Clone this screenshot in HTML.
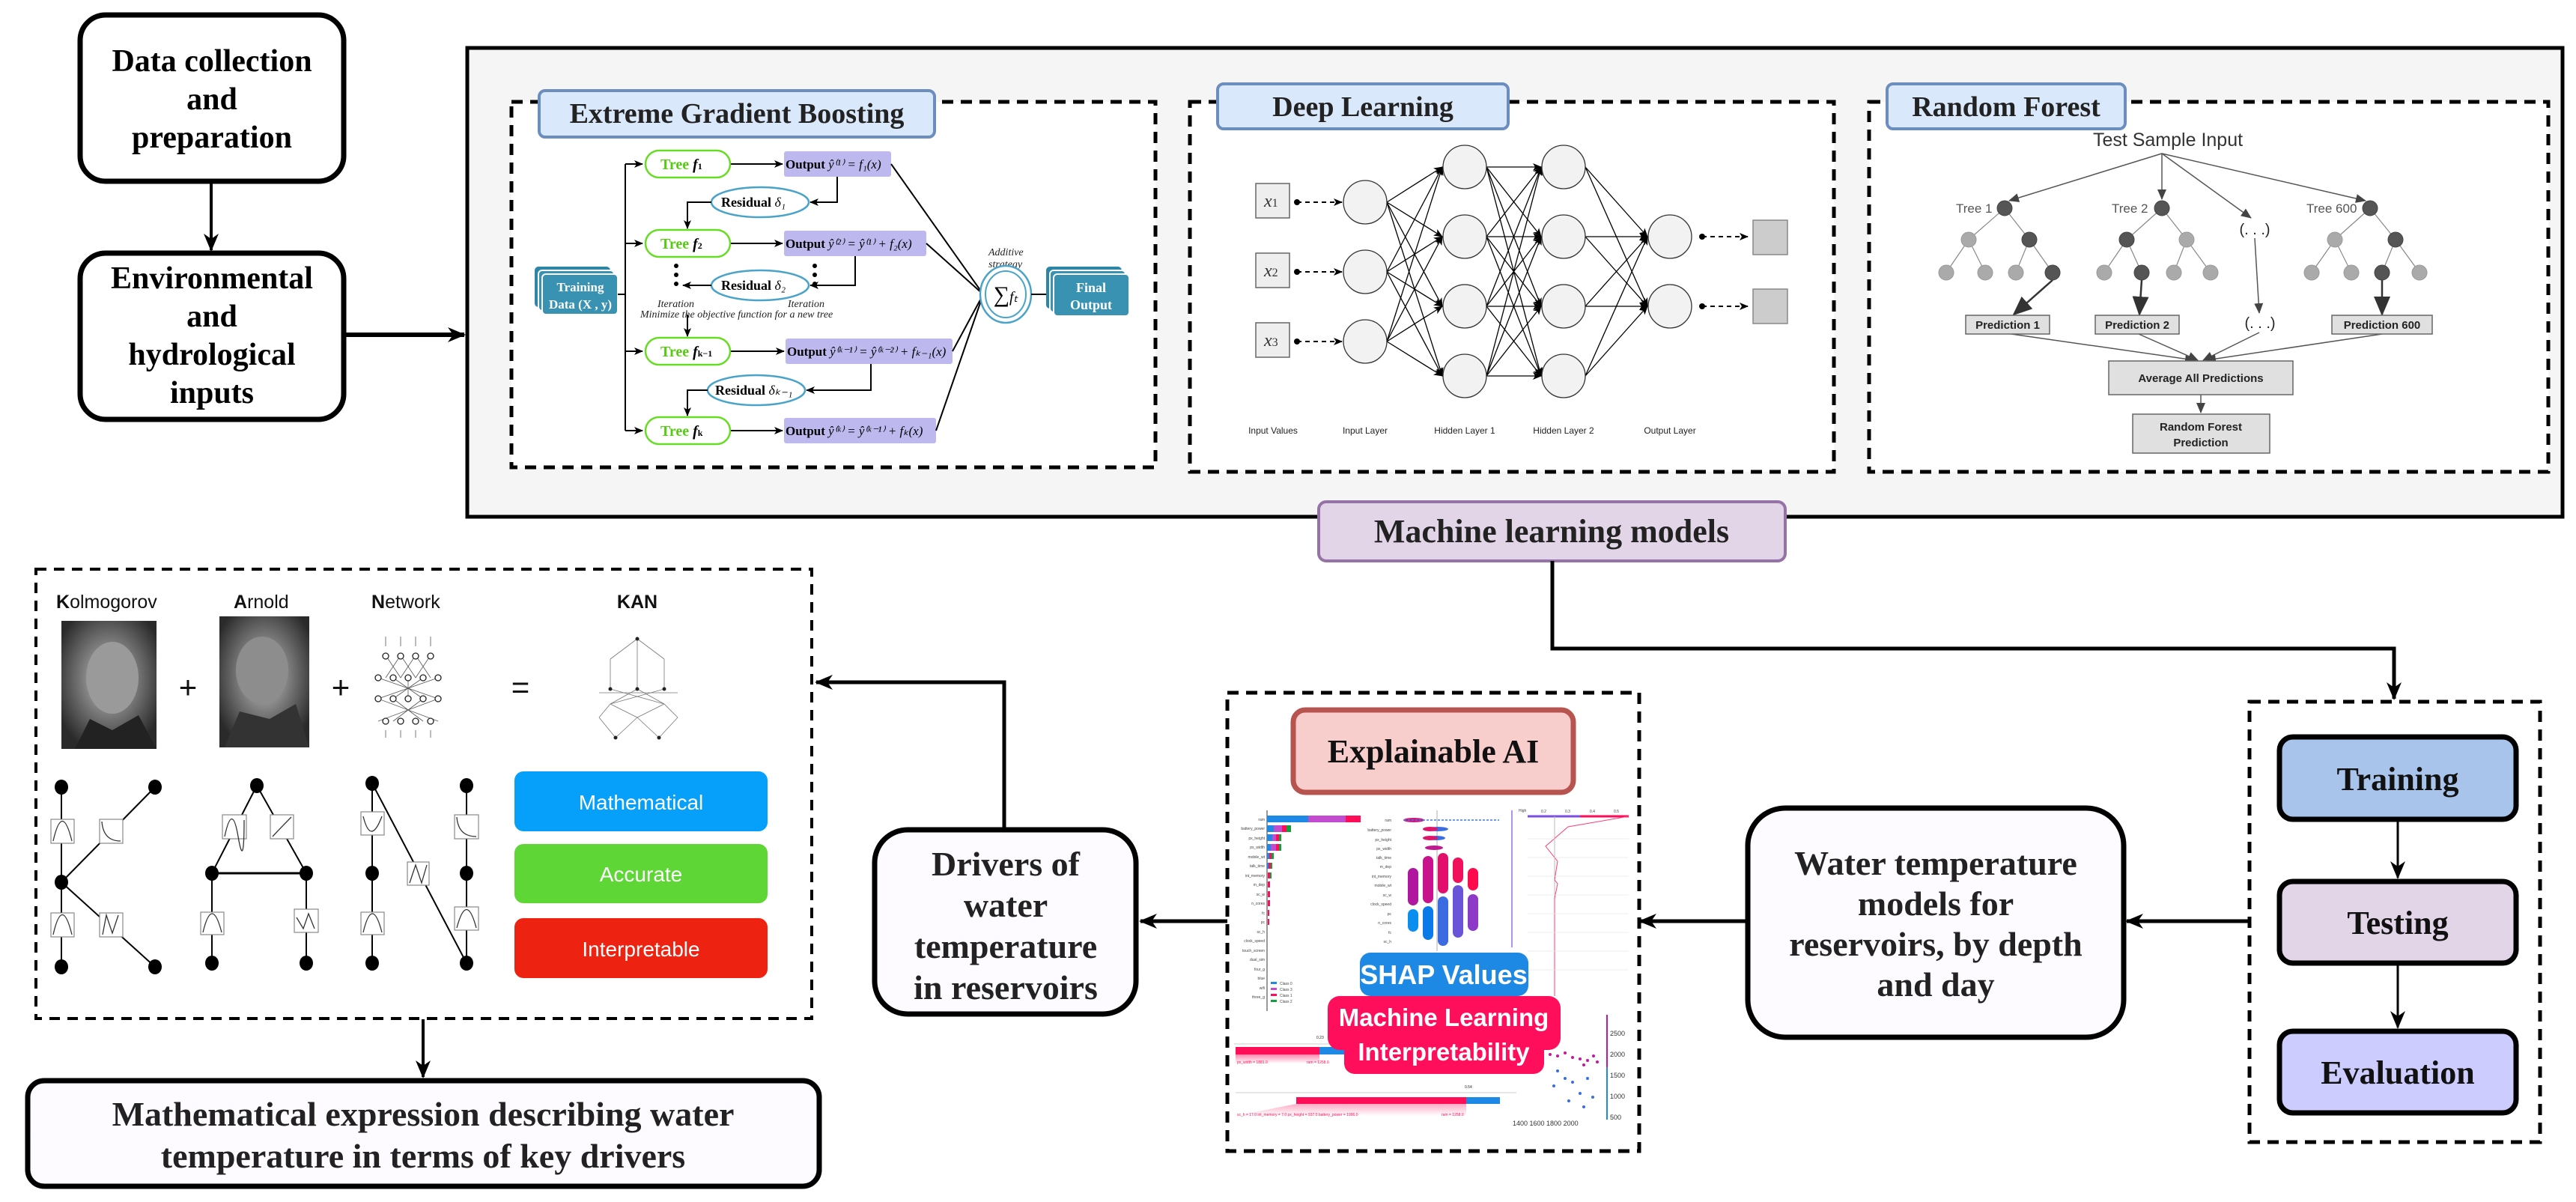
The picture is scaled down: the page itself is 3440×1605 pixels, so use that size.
<!DOCTYPE html>
<html><head><meta charset="utf-8"><style>
html,body{margin:0;padding:0;background:#fff}
svg{display:block}
.serif{font-family:"Liberation Serif",serif;font-weight:bold}
.sans{font-family:"Liberation Sans",sans-serif}
</style></head><body>
<svg width="3440" height="1605" viewBox="0 0 3440 1605" xmlns="http://www.w3.org/2000/svg">
<defs>
<marker id="ar" markerWidth="24" markerHeight="24" refX="22" refY="12" orient="auto" markerUnits="userSpaceOnUse"><path d="M0,2 L24,12 L0,22 L7,12 z" fill="#000"/></marker>
<marker id="as" markerWidth="12" markerHeight="12" refX="11" refY="6" orient="auto" markerUnits="userSpaceOnUse"><path d="M0,1 L12,6 L0,11 L3,6 z" fill="#000"/></marker>
<marker id="ag" markerWidth="14" markerHeight="14" refX="13" refY="7" orient="auto" markerUnits="userSpaceOnUse"><path d="M0,1 L14,7 L0,13 z" fill="#444"/></marker>
<marker id="agb" markerWidth="26" markerHeight="26" refX="24" refY="13" orient="auto" markerUnits="userSpaceOnUse"><path d="M0,2 L26,13 L0,24 z" fill="#333"/></marker>
<radialGradient id="ph" cx="50%" cy="45%" r="60%"><stop offset="0" stop-color="#c8c8c8"/><stop offset="0.5" stop-color="#777"/><stop offset="1" stop-color="#2a2a2a"/></radialGradient>
<linearGradient id="sh" x1="0" y1="0" x2="0" y2="1"><stop offset="0" stop-color="#ff0a5a"/><stop offset="1" stop-color="#ff0a5a" stop-opacity="0"/></linearGradient>
</defs>

<!-- Left top boxes -->
<rect x="107" y="20" width="352" height="222" rx="34" fill="#fff" stroke="#000" stroke-width="7"/>
<text class="serif" font-size="42" text-anchor="middle"><tspan x="283" y="95">Data collection</tspan><tspan x="283" y="146">and</tspan><tspan x="283" y="197">preparation</tspan></text>
<line x1="282" y1="242" x2="282" y2="334" stroke="#000" stroke-width="4" marker-end="url(#ar)"/>
<rect x="107" y="338" width="352" height="222" rx="34" fill="#fff" stroke="#000" stroke-width="7"/>
<text class="serif" font-size="42" text-anchor="middle"><tspan x="283" y="385">Environmental</tspan><tspan x="283" y="436">and</tspan><tspan x="283" y="487">hydrological</tspan><tspan x="283" y="538">inputs</tspan></text>
<line x1="459" y1="447" x2="620" y2="447" stroke="#000" stroke-width="6" marker-end="url(#ar)"/>

<!-- ML big box -->
<rect x="624" y="64" width="2798" height="626" fill="#f5f5f5" stroke="#000" stroke-width="5"/>

<!-- XGB -->
<rect x="683" y="136" width="860" height="488" fill="#fff" stroke="#000" stroke-width="5" stroke-dasharray="15 10"/>
<rect x="720" y="121" width="528" height="62" rx="8" fill="#dae8fc" stroke="#6c8ebf" stroke-width="4"/>
<text class="serif" x="984" y="164" font-size="38" text-anchor="middle" fill="#222">Extreme Gradient Boosting</text>
<!-- training data -->
<rect x="714" y="356" width="101" height="54" rx="5" fill="#2d86a6"/>
<rect x="719" y="361" width="101" height="54" rx="5" fill="#3a92b2" stroke="#fff" stroke-width="2"/>
<rect x="724" y="366" width="101" height="54" rx="5" fill="#3a92b2" stroke="#fff" stroke-width="2"/>
<text class="serif" font-size="17" fill="#fff" text-anchor="middle"><tspan x="775" y="389">Training</tspan><tspan x="775" y="412">Data (X , y)</tspan></text>
<line x1="825" y1="393" x2="835" y2="393" stroke="#000" stroke-width="2"/>
<line x1="835" y1="219" x2="835" y2="575" stroke="#000" stroke-width="2"/>
<g stroke="#000" stroke-width="2" marker-end="url(#as)">
<line x1="835" y1="219" x2="858" y2="219"/><line x1="835" y1="325" x2="858" y2="325"/><line x1="835" y1="469" x2="858" y2="469"/><line x1="835" y1="575" x2="858" y2="575"/>
<line x1="976" y1="219" x2="1045" y2="219"/><line x1="976" y1="325" x2="1045" y2="325"/><line x1="976" y1="469" x2="1047" y2="469"/><line x1="976" y1="575" x2="1045" y2="575"/>
</g>
<g fill="#fff" stroke="#66dd22" stroke-width="2.5">
<rect x="862" y="201" width="113" height="36" rx="18"/><rect x="862" y="307" width="113" height="36" rx="18"/><rect x="862" y="451" width="113" height="36" rx="18"/><rect x="862" y="557" width="113" height="36" rx="18"/>
</g>
<g font-family="Liberation Serif,serif" font-size="20" fill="#55cc11" font-weight="bold">
<text x="882" y="226">Tree <tspan fill="#000" font-style="italic">f</tspan><tspan fill="#000" font-size="12">1</tspan></text>
<text x="882" y="332">Tree <tspan fill="#000" font-style="italic">f</tspan><tspan fill="#000" font-size="12">2</tspan></text>
<text x="882" y="476">Tree <tspan fill="#000" font-style="italic">f</tspan><tspan fill="#000" font-size="12">k−1</tspan></text>
<text x="882" y="582">Tree <tspan fill="#000" font-style="italic">f</tspan><tspan fill="#000" font-size="12">k</tspan></text>
</g>
<g fill="#bdb8ee">
<rect x="1047" y="202" width="143" height="34" rx="3"/><rect x="1047" y="308" width="190" height="34" rx="3"/><rect x="1049" y="452" width="223" height="34" rx="3"/><rect x="1047" y="558" width="203" height="34" rx="3"/>
</g>
<g font-family="Liberation Serif,serif" font-size="17" fill="#000">
<text x="1049" y="225"><tspan font-weight="bold">Output</tspan> <tspan font-style="italic">ŷ⁽¹⁾ = f₁(x)</tspan></text>
<text x="1049" y="331"><tspan font-weight="bold">Output</tspan> <tspan font-style="italic">ŷ⁽²⁾ = ŷ⁽¹⁾ + f₂(x)</tspan></text>
<text x="1051" y="475"><tspan font-weight="bold">Output</tspan> <tspan font-style="italic">ŷ⁽ᵏ⁻¹⁾ = ŷ⁽ᵏ⁻²⁾ + fₖ₋₁(x)</tspan></text>
<text x="1049" y="581"><tspan font-weight="bold">Output</tspan> <tspan font-style="italic">ŷ⁽ᵏ⁾ = ŷ⁽ᵏ⁻¹⁾ + fₖ(x)</tspan></text>
</g>
<g fill="#fff" stroke="#4aa3c8" stroke-width="2.5">
<ellipse cx="1015" cy="270" rx="65" ry="20"/><ellipse cx="1015" cy="381" rx="65" ry="20"/><ellipse cx="1010" cy="521" rx="65" ry="20"/>
</g>
<g font-family="Liberation Serif,serif" font-size="18" font-weight="bold">
<text x="963" y="276">Residual <tspan font-style="italic" font-weight="normal">δ₁</tspan></text>
<text x="963" y="387">Residual <tspan font-style="italic" font-weight="normal">δ₂</tspan></text>
<text x="955" y="527">Residual <tspan font-style="italic" font-weight="normal">δₖ₋₁</tspan></text>
</g>
<g fill="none" stroke="#000" stroke-width="2">
<polyline points="1118,236 1118,270 1082,270" marker-end="url(#as)"/>
<polyline points="950,270 918,270 918,305" marker-end="url(#as)"/>
<polyline points="1142,342 1142,381 1082,381" marker-end="url(#as)"/>
<polyline points="950,381 912,381" marker-end="url(#as)"/>
<polyline points="1163,486 1163,521 1077,521" marker-end="url(#as)"/>
<polyline points="945,521 918,521 918,555" marker-end="url(#as)"/>
<line x1="918" y1="420" x2="918" y2="449" marker-end="url(#as)"/>
<line x1="1190" y1="219" x2="1313" y2="393"/><line x1="1237" y1="325" x2="1313" y2="393"/><line x1="1272" y1="469" x2="1313" y2="393"/><line x1="1250" y1="575" x2="1313" y2="393"/>
</g>
<g fill="#000"><circle cx="903" cy="355" r="3"/><circle cx="903" cy="367" r="3"/><circle cx="903" cy="379" r="3"/><circle cx="1088" cy="355" r="3"/><circle cx="1088" cy="367" r="3"/><circle cx="1088" cy="379" r="3"/></g>
<g font-family="Liberation Serif,serif" font-style="italic" font-size="14" fill="#222">
<text x="878" y="410">Iteration</text><text x="1052" y="410">Iteration</text>
<text x="855" y="424">Minimize the objective function for a new tree</text>
<text x="1320" y="341">Additive</text><text x="1320" y="357">strategy</text>
</g>
<ellipse cx="1343" cy="393" rx="34" ry="38" fill="#fff" stroke="#4aa3c8" stroke-width="2.5"/>
<ellipse cx="1343" cy="393" rx="27" ry="31" fill="none" stroke="#4aa3c8" stroke-width="2"/>
<text x="1343" y="403" font-family="Liberation Serif,serif" font-size="30" text-anchor="middle">∑<tspan font-size="20" font-style="italic">fₜ</tspan></text>
<line x1="1377" y1="393" x2="1404" y2="393" stroke="#000" stroke-width="2"/>
<rect x="1397" y="356" width="101" height="56" rx="5" fill="#2d86a6"/>
<rect x="1402" y="361" width="101" height="56" rx="5" fill="#3a92b2" stroke="#fff" stroke-width="2"/>
<rect x="1407" y="366" width="101" height="56" rx="5" fill="#3a92b2" stroke="#fff" stroke-width="2"/>
<text class="serif" font-size="18" fill="#fff" text-anchor="middle"><tspan x="1457" y="390">Final</tspan><tspan x="1457" y="413">Output</tspan></text>

<!-- Deep learning -->
<rect x="1589" y="136" width="860" height="494" fill="#fff" stroke="#000" stroke-width="5" stroke-dasharray="15 10"/>
<rect x="1626" y="112" width="388" height="60" rx="8" fill="#dae8fc" stroke="#6c8ebf" stroke-width="4"/>
<text class="serif" x="1820" y="155" font-size="38" text-anchor="middle" fill="#222">Deep Learning</text>
<g fill="#eeeeee" stroke="#666" stroke-width="1.5">
<rect x="1677" y="245" width="45" height="46"/><rect x="1677" y="338" width="45" height="46"/><rect x="1677" y="431" width="45" height="46"/>
</g>
<g fill="#ccc" stroke="#888" stroke-width="1.5"><rect x="2341" y="294" width="46" height="46"/><rect x="2341" y="386" width="46" height="46"/></g>
<g font-family="Liberation Serif,serif" font-style="italic" font-size="24" fill="#333">
<text x="1688" y="276">x<tspan font-size="16" font-style="normal">1</tspan></text><text x="1688" y="369">x<tspan font-size="16" font-style="normal">2</tspan></text><text x="1688" y="462">x<tspan font-size="16" font-style="normal">3</tspan></text>
</g>
<g stroke="#000" stroke-width="2" stroke-dasharray="6 5" marker-end="url(#as)">
<line x1="1732" y1="270" x2="1792" y2="270"/><line x1="1732" y1="363" x2="1792" y2="363"/><line x1="1732" y1="456" x2="1792" y2="456"/>
<line x1="2273" y1="316" x2="2334" y2="316"/><line x1="2273" y1="409" x2="2334" y2="409"/>
</g>
<g fill="#000"><circle cx="1732" cy="270" r="4"/><circle cx="1732" cy="363" r="4"/><circle cx="1732" cy="456" r="4"/><circle cx="2273" cy="316" r="4"/><circle cx="2273" cy="409" r="4"/></g>
<g stroke="#000" stroke-width="1.3" marker-end="url(#as)">
<line x1="1852" y1="270" x2="1926" y2="223"/><line x1="1852" y1="270" x2="1926" y2="316"/><line x1="1852" y1="270" x2="1926" y2="409"/><line x1="1852" y1="270" x2="1926" y2="502"/>
<line x1="1852" y1="363" x2="1926" y2="223"/><line x1="1852" y1="363" x2="1926" y2="316"/><line x1="1852" y1="363" x2="1926" y2="409"/><line x1="1852" y1="363" x2="1926" y2="502"/>
<line x1="1852" y1="456" x2="1926" y2="223"/><line x1="1852" y1="456" x2="1926" y2="316"/><line x1="1852" y1="456" x2="1926" y2="409"/><line x1="1852" y1="456" x2="1926" y2="502"/>
<line x1="1985" y1="223" x2="2058" y2="223"/><line x1="1985" y1="223" x2="2058" y2="316"/><line x1="1985" y1="223" x2="2058" y2="409"/><line x1="1985" y1="223" x2="2058" y2="502"/>
<line x1="1985" y1="316" x2="2058" y2="223"/><line x1="1985" y1="316" x2="2058" y2="316"/><line x1="1985" y1="316" x2="2058" y2="409"/><line x1="1985" y1="316" x2="2058" y2="502"/>
<line x1="1985" y1="409" x2="2058" y2="223"/><line x1="1985" y1="409" x2="2058" y2="316"/><line x1="1985" y1="409" x2="2058" y2="409"/><line x1="1985" y1="409" x2="2058" y2="502"/>
<line x1="1985" y1="502" x2="2058" y2="223"/><line x1="1985" y1="502" x2="2058" y2="316"/><line x1="1985" y1="502" x2="2058" y2="409"/><line x1="1985" y1="502" x2="2058" y2="502"/>
<line x1="2117" y1="223" x2="2200" y2="316"/><line x1="2117" y1="223" x2="2200" y2="409"/>
<line x1="2117" y1="316" x2="2200" y2="316"/><line x1="2117" y1="316" x2="2200" y2="409"/>
<line x1="2117" y1="409" x2="2200" y2="316"/><line x1="2117" y1="409" x2="2200" y2="409"/>
<line x1="2117" y1="502" x2="2200" y2="316"/><line x1="2117" y1="502" x2="2200" y2="409"/>
</g>
<g fill="#f2f2f2" stroke="#333" stroke-width="1.3">
<ellipse cx="1823" cy="270" rx="29" ry="29"/><ellipse cx="1823" cy="363" rx="29" ry="29"/><ellipse cx="1823" cy="456" rx="29" ry="29"/>
<ellipse cx="1956" cy="223" rx="29" ry="29"/><ellipse cx="1956" cy="316" rx="29" ry="29"/><ellipse cx="1956" cy="409" rx="29" ry="29"/><ellipse cx="1956" cy="502" rx="29" ry="29"/>
<ellipse cx="2088" cy="223" rx="29" ry="29"/><ellipse cx="2088" cy="316" rx="29" ry="29"/><ellipse cx="2088" cy="409" rx="29" ry="29"/><ellipse cx="2088" cy="502" rx="29" ry="29"/>
<ellipse cx="2230" cy="316" rx="29" ry="29"/><ellipse cx="2230" cy="409" rx="29" ry="29"/>
</g>
<g class="sans" font-size="12" fill="#222" text-anchor="middle">
<text x="1700" y="579">Input Values</text><text x="1823" y="579">Input Layer</text><text x="1956" y="579">Hidden Layer 1</text><text x="2088" y="579">Hidden Layer 2</text><text x="2230" y="579">Output Layer</text>
</g>

<!-- Random forest -->
<rect x="2496" y="136" width="907" height="494" fill="#fff" stroke="#000" stroke-width="5" stroke-dasharray="15 10"/>
<rect x="2520" y="112" width="318" height="60" rx="8" fill="#dae8fc" stroke="#6c8ebf" stroke-width="4"/>
<text class="serif" x="2679" y="155" font-size="38" text-anchor="middle" fill="#222">Random Forest</text>
<text class="sans" x="2895" y="195" font-size="25" text-anchor="middle" fill="#333">Test Sample Input</text>
<g stroke="#555" stroke-width="1.5" marker-end="url(#ag)">
<line x1="2887" y1="205" x2="2683" y2="268"/><line x1="2887" y1="205" x2="2887" y2="266"/><line x1="2887" y1="205" x2="3006" y2="291"/><line x1="2887" y1="205" x2="3159" y2="268"/>
<line x1="3011" y1="318" x2="3017" y2="418"/>
<line x1="2686" y1="446" x2="2931" y2="481"/><line x1="2856" y1="446" x2="2935" y2="481"/><line x1="3017" y1="444" x2="2942" y2="481"/><line x1="3181" y1="446" x2="2946" y2="481"/>
<line x1="2939" y1="527" x2="2939" y2="551"/>
</g>
<g stroke="#888" stroke-width="1.2">
<line x1="2677" y1="278" x2="2629" y2="320"/><line x1="2677" y1="278" x2="2710" y2="320"/><line x1="2629" y1="320" x2="2599" y2="364"/><line x1="2629" y1="320" x2="2651" y2="364"/><line x1="2710" y1="320" x2="2692" y2="364"/><line x1="2710" y1="320" x2="2741" y2="364"/>
<line x1="2887" y1="278" x2="2840" y2="320"/><line x1="2887" y1="278" x2="2920" y2="320"/><line x1="2840" y1="320" x2="2810" y2="364"/><line x1="2840" y1="320" x2="2860" y2="364"/><line x1="2920" y1="320" x2="2903" y2="364"/><line x1="2920" y1="320" x2="2952" y2="364"/>
<line x1="3165" y1="278" x2="3118" y2="320"/><line x1="3165" y1="278" x2="3199" y2="320"/><line x1="3118" y1="320" x2="3087" y2="364"/><line x1="3118" y1="320" x2="3140" y2="364"/><line x1="3199" y1="320" x2="3181" y2="364"/><line x1="3199" y1="320" x2="3231" y2="364"/>
</g>
<g stroke="#333" stroke-width="2.5" marker-end="url(#agb)">
<line x1="2741" y1="374" x2="2689" y2="420"/><line x1="2860" y1="374" x2="2857" y2="420"/><line x1="3181" y1="374" x2="3181" y2="420"/>
</g>
<g fill="#aaa" stroke="#999">
<circle cx="2629" cy="320" r="10"/><circle cx="2599" cy="364" r="10"/><circle cx="2651" cy="364" r="10"/><circle cx="2692" cy="364" r="10"/>
<circle cx="2920" cy="320" r="10"/><circle cx="2810" cy="364" r="10"/><circle cx="2903" cy="364" r="10"/><circle cx="2952" cy="364" r="10"/>
<circle cx="3118" cy="320" r="10"/><circle cx="3087" cy="364" r="10"/><circle cx="3140" cy="364" r="10"/><circle cx="3231" cy="364" r="10"/>
</g>
<g fill="#555" stroke="#444">
<circle cx="2677" cy="278" r="10"/><circle cx="2710" cy="320" r="10"/><circle cx="2741" cy="364" r="10"/>
<circle cx="2887" cy="278" r="10"/><circle cx="2840" cy="320" r="10"/><circle cx="2860" cy="364" r="10"/>
<circle cx="3165" cy="278" r="10"/><circle cx="3199" cy="320" r="10"/><circle cx="3181" cy="364" r="10"/>
</g>
<g class="sans" font-size="17" fill="#555"><text x="2612" y="284">Tree 1</text><text x="2820" y="284">Tree 2</text><text x="3080" y="284">Tree 600</text></g>
<g class="sans" font-size="20" fill="#222" text-anchor="middle"><text x="3011" y="313">(. . .)</text><text x="3018" y="438">(. . .)</text></g>
<g fill="#e0e0e0" stroke="#666" stroke-width="1.5">
<rect x="2625" y="421" width="112" height="25"/><rect x="2798" y="421" width="112" height="25"/><rect x="3114" y="421" width="134" height="25"/>
<rect x="2816" y="482" width="246" height="45"/><rect x="2848" y="553" width="183" height="52"/>
</g>
<g class="sans" font-size="15" font-weight="bold" fill="#222" text-anchor="middle">
<text x="2681" y="439">Prediction 1</text><text x="2854" y="439">Prediction 2</text><text x="3181" y="439">Prediction 600</text>
<text x="2939" y="510">Average All Predictions</text>
<text x="2939" y="575">Random Forest</text><text x="2939" y="596">Prediction</text>
</g>

<!-- ML models label -->
<rect x="1761" y="670" width="623" height="79" rx="10" fill="#e1d5e7" stroke="#9673a6" stroke-width="4"/>
<text class="serif" x="2072" y="724" font-size="44" text-anchor="middle" fill="#222">Machine learning models</text>
<polyline points="2073,749 2073,866 3197,866 3197,933" fill="none" stroke="#000" stroke-width="5" marker-end="url(#ar)"/>

<!-- Right group -->
<rect x="3004" y="937" width="388" height="588" fill="#fff" stroke="#000" stroke-width="5" stroke-dasharray="15 10"/>
<rect x="3044" y="984" width="316" height="110" rx="18" fill="#a9c4eb" stroke="#000" stroke-width="7"/>
<text class="serif" x="3202" y="1055" font-size="44" text-anchor="middle" fill="#111">Training</text>
<line x1="3202" y1="1094" x2="3202" y2="1172" stroke="#000" stroke-width="3" marker-end="url(#ar)"/>
<rect x="3044" y="1177" width="316" height="109" rx="18" fill="#e1d5e7" stroke="#000" stroke-width="7"/>
<text class="serif" x="3202" y="1247" font-size="44" text-anchor="middle" fill="#111">Testing</text>
<line x1="3202" y1="1286" x2="3202" y2="1372" stroke="#000" stroke-width="3" marker-end="url(#ar)"/>
<rect x="3044" y="1377" width="316" height="109" rx="18" fill="#ccccff" stroke="#000" stroke-width="7"/>
<text class="serif" x="3202" y="1447" font-size="44" text-anchor="middle" fill="#111">Evaluation</text>
<line x1="3004" y1="1230" x2="2840" y2="1230" stroke="#000" stroke-width="5" marker-end="url(#ar)"/>

<!-- Water temp models -->
<rect x="2334" y="1079" width="502" height="306" rx="50" fill="#fdfbff" stroke="#000" stroke-width="7"/>
<text class="serif" font-size="46" text-anchor="middle" fill="#222"><tspan x="2585" y="1168">Water temperature</tspan><tspan x="2585" y="1222">models for</tspan><tspan x="2585" y="1276">reservoirs, by depth</tspan><tspan x="2585" y="1330">and day</tspan></text>
<line x1="2334" y1="1230" x2="2190" y2="1230" stroke="#000" stroke-width="5" marker-end="url(#ar)"/>

<!-- XAI -->
<rect x="1639" y="925" width="550" height="612" fill="#fff" stroke="#000" stroke-width="5" stroke-dasharray="15 10"/>
<rect x="1727" y="948" width="374" height="110" rx="16" fill="#f8cecc" stroke="#b85450" stroke-width="7"/>
<text class="serif" x="1914" y="1018" font-size="44" text-anchor="middle" fill="#111">Explainable AI</text>
<!-- bar chart -->
<line x1="1692" y1="1082" x2="1692" y2="1350" stroke="#000" stroke-width="0.8"/>
<rect x="1692" y="1089" width="55" height="9" fill="#1e88e5"/><rect x="1747" y="1089" width="50" height="9" fill="#c24bd0"/><rect x="1797" y="1089" width="20" height="9" fill="#ff0d57"/>
<g fill="#1e88e5"><rect x="1692" y="1102" width="9" height="9"/><rect x="1692" y="1114" width="7" height="9"/><rect x="1692" y="1127" width="5" height="9"/><rect x="1692" y="1139" width="3" height="8"/><rect x="1692" y="1152" width="2" height="8"/></g>
<g fill="#c24bd0"><rect x="1701" y="1102" width="11" height="9"/><rect x="1699" y="1114" width="5" height="9"/><rect x="1697" y="1127" width="7" height="9"/></g>
<g fill="#ff0d57"><rect x="1712" y="1102" width="6" height="9"/><rect x="1704" y="1114" width="4" height="9"/><rect x="1704" y="1127" width="4" height="9"/><rect x="1695" y="1139" width="3" height="8"/><rect x="1694" y="1152" width="3" height="8"/><rect x="1693" y="1165" width="3" height="8"/><rect x="1693" y="1177" width="3" height="8"/><rect x="1693" y="1190" width="3" height="8"/><rect x="1693" y="1202" width="3" height="8"/><rect x="1693" y="1215" width="2" height="8"/><rect x="1693" y="1227" width="2" height="8"/></g>
<g fill="#13a03a"><rect x="1718" y="1102" width="6" height="9"/><rect x="1708" y="1114" width="3" height="9"/><rect x="1708" y="1127" width="3" height="9"/><rect x="1698" y="1139" width="3" height="8"/><rect x="1697" y="1152" width="2" height="8"/><rect x="1696" y="1165" width="2" height="8"/></g>
<g class="sans" font-size="5" fill="#444" text-anchor="end">
<text x="1689" y="1096">ram</text><text x="1689" y="1108">battery_power</text><text x="1689" y="1121">px_height</text><text x="1689" y="1133">px_width</text><text x="1689" y="1146">mobile_wt</text><text x="1689" y="1158">talk_time</text><text x="1689" y="1171">int_memory</text><text x="1689" y="1183">m_dep</text><text x="1689" y="1196">sc_w</text><text x="1689" y="1208">n_cores</text><text x="1689" y="1221">fc</text><text x="1689" y="1233">pc</text><text x="1689" y="1246">sc_h</text><text x="1689" y="1258">clock_speed</text><text x="1689" y="1271">touch_screen</text><text x="1689" y="1283">dual_sim</text><text x="1689" y="1296">four_g</text><text x="1689" y="1308">blue</text><text x="1689" y="1321">wifi</text><text x="1689" y="1333">three_g</text>
</g>
<g class="sans" font-size="5" fill="#444"><rect x="1697" y="1311" width="8" height="3" fill="#1e88e5"/><text x="1709" y="1315">Class 0</text><rect x="1697" y="1319" width="8" height="3" fill="#c24bd0"/><text x="1709" y="1323">Class 3</text><rect x="1697" y="1327" width="8" height="3" fill="#ff0d57"/><text x="1709" y="1331">Class 1</text><rect x="1697" y="1335" width="8" height="3" fill="#13a03a"/><text x="1709" y="1339">Class 2</text></g>
<!-- beeswarm -->
<line x1="1919" y1="1082" x2="1919" y2="1270" stroke="#999" stroke-width="0.8"/>
<g class="sans" font-size="5" fill="#444" text-anchor="end"><text x="1858" y="1097">ram</text><text x="1858" y="1110">battery_power</text><text x="1858" y="1123">px_height</text><text x="1858" y="1135">px_width</text><text x="1858" y="1147">talk_time</text><text x="1858" y="1159">m_dep</text><text x="1858" y="1172">int_memory</text><text x="1858" y="1184">mobile_wt</text><text x="1858" y="1197">sc_w</text><text x="1858" y="1209">clock_speed</text><text x="1858" y="1222">pc</text><text x="1858" y="1234">n_cores</text><text x="1858" y="1247">fc</text><text x="1858" y="1259">sc_h</text></g>
<g><ellipse cx="1888" cy="1095" rx="14" ry="3" fill="#d0157a"/><line x1="1875" y1="1095" x2="2002" y2="1095" stroke="#3b78e7" stroke-width="1.5" stroke-dasharray="3 2"/><ellipse cx="1920" cy="1107" rx="14" ry="3" fill="#3a6de0"/><ellipse cx="1910" cy="1107" rx="10" ry="3" fill="#e0156a"/><ellipse cx="1918" cy="1119" rx="12" ry="3" fill="#3a6de0"/><ellipse cx="1910" cy="1119" rx="10" ry="3" fill="#e0156a"/><ellipse cx="1915" cy="1132" rx="12" ry="3" fill="#c01890"/></g>
<!-- SHAP logo capsules -->
<g>
<rect x="1880" y="1159" width="14" height="50" rx="7" fill="#b0179e"/><rect x="1900" y="1143" width="14" height="63" rx="7" fill="#c8128e"/><rect x="1920" y="1139" width="14" height="54" rx="7" fill="#e2106c"/><rect x="1940" y="1145" width="14" height="34" rx="7" fill="#f0105c"/><rect x="1960" y="1159" width="14" height="30" rx="7" fill="#ff0a4c"/>
<rect x="1880" y="1214" width="14" height="30" rx="7" fill="#0a8ef0"/><rect x="1900" y="1210" width="14" height="45" rx="7" fill="#0a7ae8"/><rect x="1920" y="1197" width="14" height="66" rx="7" fill="#3c6ae0"/><rect x="1940" y="1182" width="14" height="70" rx="7" fill="#6a54d8"/><rect x="1960" y="1194" width="14" height="49" rx="7" fill="#8e3ac8"/>
</g>
<line x1="2019" y1="1082" x2="2019" y2="1265" stroke="url(#sh)" stroke-width="3"/>
<line x1="2019" y1="1082" x2="2019" y2="1265" stroke="#7b4de0" stroke-width="2" opacity="0.6"/>
<!-- line chart -->
<line x1="2040" y1="1090" x2="2175" y2="1090" stroke="#7b4de0" stroke-width="3"/>
<line x1="2110" y1="1090" x2="2175" y2="1090" stroke="#ff0d57" stroke-width="3"/>
<line x1="2076" y1="1090" x2="2076" y2="1330" stroke="#bbb" stroke-width="1"/>
<polyline points="2175,1090 2094,1104 2064,1130 2080,1150 2076,1175 2080,1180 2076,1200 2076,1330" fill="none" stroke="#ff3d7a" stroke-width="1"/>
<g stroke="#e6e6e6" stroke-width="0.8"><line x1="2040" y1="1120" x2="2175" y2="1120"/><line x1="2040" y1="1145" x2="2175" y2="1145"/><line x1="2040" y1="1170" x2="2175" y2="1170"/><line x1="2040" y1="1195" x2="2175" y2="1195"/><line x1="2040" y1="1220" x2="2175" y2="1220"/><line x1="2040" y1="1245" x2="2175" y2="1245"/><line x1="2040" y1="1270" x2="2175" y2="1270"/><line x1="2040" y1="1295" x2="2175" y2="1295"/></g>
<g class="sans" font-size="5" fill="#444"><text x="2058" y="1085">0.2</text><text x="2090" y="1085">0.3</text><text x="2123" y="1085">0.4</text><text x="2155" y="1085">0.5</text><text x="2028" y="1084">High</text></g>
<!-- force plots -->
<line x1="1648" y1="1394" x2="2060" y2="1394" stroke="#ccc" stroke-width="1"/>
<rect x="1650" y="1398" width="112" height="10" fill="#ff0d57"/><rect x="1762" y="1398" width="60" height="10" fill="#1e88e5"/>
<rect x="1650" y="1408" width="112" height="12" fill="url(#sh)" opacity="0.5"/>
<line x1="1650" y1="1459" x2="2025" y2="1459" stroke="#ccc" stroke-width="1"/>
<rect x="1731" y="1465" width="227" height="9" fill="#ff0d57"/><rect x="1958" y="1465" width="45" height="9" fill="#1e88e5"/>
<polygon points="1650,1490 1731,1474 1958,1474 1958,1490" fill="url(#sh)" opacity="0.35"/>
<g class="sans" font-size="5" fill="#ff0d57"><text x="1652" y="1420">px_width = 1881.0</text><text x="1745" y="1420">ram = 1258.0</text><text x="1652" y="1490">sc_h = 17.0   int_memory = 7.0   px_height = 937.0   battery_power = 1996.0</text><text x="1925" y="1490">ram = 1258.0</text></g>
<g class="sans" font-size="5" fill="#222"><text x="1956" y="1453">0.54</text><text x="1758" y="1387">0.23</text></g>
<!-- scatter -->
<line x1="2146" y1="1355" x2="2146" y2="1495" stroke="#c218a0" stroke-width="2"/>
<line x1="2146" y1="1425" x2="2146" y2="1495" stroke="#1e88e5" stroke-width="2"/>
<g class="sans" font-size="9" fill="#333"><text x="2150" y="1383">2500</text><text x="2150" y="1411">2000</text><text x="2150" y="1439">1500</text><text x="2150" y="1467">1000</text><text x="2150" y="1495">500</text><text x="2020" y="1503">1400  1600  1800  2000</text></g>
<g fill="#c218a0"><circle cx="2070" cy="1408" r="2"/><circle cx="2080" cy="1410" r="2"/><circle cx="2090" cy="1406" r="2"/><circle cx="2100" cy="1412" r="2"/><circle cx="2110" cy="1414" r="2"/><circle cx="2120" cy="1416" r="2"/><circle cx="2128" cy="1410" r="2"/><circle cx="2133" cy="1418" r="2"/><circle cx="2115" cy="1422" r="2"/></g>
<g fill="#3a6de0"><circle cx="2080" cy="1430" r="2"/><circle cx="2090" cy="1440" r="2"/><circle cx="2075" cy="1450" r="2"/><circle cx="2100" cy="1445" r="2"/><circle cx="2110" cy="1460" r="2"/><circle cx="2120" cy="1440" r="2"/><circle cx="2127" cy="1465" r="2"/><circle cx="2115" cy="1478" r="2"/><circle cx="2095" cy="1470" r="2"/></g>
<!-- SHAP labels -->
<rect x="1816" y="1272" width="225" height="58" rx="14" fill="#1e88e5"/>
<text class="sans" x="1928" y="1314" font-size="36" font-weight="bold" fill="#fff" text-anchor="middle">SHAP Values</text>
<rect x="1773" y="1330" width="311" height="72" rx="16" fill="#ff0f5b"/>
<rect x="1795" y="1380" width="267" height="54" rx="14" fill="#ff0f5b"/>
<text class="sans" font-size="33" font-weight="bold" fill="#fff" text-anchor="middle"><tspan x="1928" y="1370">Machine Learning</tspan><tspan x="1928" y="1416">Interpretability</tspan></text>
<line x1="1639" y1="1230" x2="1523" y2="1230" stroke="#000" stroke-width="5" marker-end="url(#ar)"/>

<!-- Drivers -->
<rect x="1168" y="1108" width="349" height="246" rx="44" fill="#fdfbff" stroke="#000" stroke-width="7"/>
<text class="serif" font-size="46" text-anchor="middle" fill="#222"><tspan x="1343" y="1169">Drivers of</tspan><tspan x="1343" y="1224">water</tspan><tspan x="1343" y="1279">temperature</tspan><tspan x="1343" y="1334">in reservoirs</tspan></text>
<polyline points="1341,1108 1341,911 1090,911" fill="none" stroke="#000" stroke-width="5" marker-end="url(#ar)"/>

<!-- KAN -->
<rect x="48" y="760" width="1036" height="600" fill="#fff" stroke="#000" stroke-width="4" stroke-dasharray="14 10"/>
<g class="sans" font-size="25" fill="#111">
<text x="75" y="812"><tspan font-weight="bold">K</tspan>olmogorov</text>
<text x="312" y="812"><tspan font-weight="bold">A</tspan>rnold</text>
<text x="496" y="812"><tspan font-weight="bold">N</tspan>etwork</text>
<text x="851" y="812" font-weight="bold" text-anchor="middle">KAN</text>
</g>
<rect x="82" y="829" width="127" height="171" fill="url(#ph)"/>
<ellipse cx="150" cy="905" rx="35" ry="48" fill="#9a9a9a"/>
<path d="M100,1000 L120,960 L150,975 L185,955 L209,1000 z" fill="#222"/>
<rect x="293" y="823" width="120" height="175" fill="url(#ph)"/>
<ellipse cx="350" cy="895" rx="35" ry="45" fill="#8d8d8d"/>
<path d="M300,998 L320,950 L360,960 L395,940 L413,998 z" fill="#333"/>
<g class="sans" font-size="42" fill="#111" text-anchor="middle"><text x="251" y="932">+</text><text x="455" y="932">+</text><text x="695" y="932">=</text></g>
<!-- network icon -->
<g stroke="#555" stroke-width="0.8" fill="none">
<line x1="515" y1="875" x2="535" y2="905"/><line x1="535" y1="875" x2="515" y2="905"/><line x1="555" y1="875" x2="575" y2="905"/><line x1="575" y1="875" x2="555" y2="905"/><line x1="535" y1="875" x2="555" y2="905"/><line x1="555" y1="875" x2="535" y2="905"/>
<line x1="505" y1="905" x2="585" y2="933"/><line x1="585" y1="905" x2="505" y2="933"/><line x1="525" y1="905" x2="565" y2="933"/><line x1="565" y1="905" x2="525" y2="933"/><line x1="545" y1="905" x2="545" y2="933"/>
<line x1="505" y1="933" x2="585" y2="963"/><line x1="585" y1="933" x2="505" y2="963"/><line x1="525" y1="933" x2="565" y2="963"/><line x1="565" y1="933" x2="525" y2="963"/>
<line x1="515" y1="863" x2="515" y2="850"/><line x1="535" y1="863" x2="535" y2="850"/><line x1="555" y1="863" x2="555" y2="850"/><line x1="575" y1="863" x2="575" y2="850"/>
<line x1="515" y1="975" x2="515" y2="985"/><line x1="535" y1="975" x2="535" y2="985"/><line x1="555" y1="975" x2="555" y2="985"/><line x1="575" y1="975" x2="575" y2="985"/>
</g>
<g fill="#fff" stroke="#222" stroke-width="1.3">
<circle cx="515" cy="876" r="4"/><circle cx="535" cy="876" r="4"/><circle cx="555" cy="876" r="4"/><circle cx="575" cy="876" r="4"/>
<circle cx="505" cy="905" r="4"/><circle cx="525" cy="905" r="4"/><circle cx="545" cy="905" r="4"/><circle cx="565" cy="905" r="4"/><circle cx="585" cy="905" r="4"/>
<circle cx="505" cy="933" r="4"/><circle cx="525" cy="933" r="4"/><circle cx="545" cy="933" r="4"/><circle cx="565" cy="933" r="4"/><circle cx="585" cy="933" r="4"/>
<circle cx="515" cy="963" r="4"/><circle cx="535" cy="963" r="4"/><circle cx="555" cy="963" r="4"/><circle cx="575" cy="963" r="4"/>
</g>
<!-- KAN icon -->
<g stroke="#777" stroke-width="0.8" fill="none">
<line x1="851" y1="853" x2="815" y2="880"/><line x1="851" y1="853" x2="851" y2="880"/><line x1="851" y1="853" x2="887" y2="880"/>
<line x1="815" y1="880" x2="815" y2="920"/><line x1="887" y1="880" x2="887" y2="920"/><line x1="851" y1="880" x2="851" y2="920"/>
<line x1="815" y1="920" x2="887" y2="940"/><line x1="887" y1="920" x2="815" y2="940"/><line x1="851" y1="920" x2="815" y2="940"/><line x1="851" y1="920" x2="887" y2="940"/><line x1="800" y1="925" x2="905" y2="925"/>
<line x1="815" y1="940" x2="851" y2="958"/><line x1="887" y1="940" x2="851" y2="958"/><line x1="815" y1="940" x2="800" y2="958"/><line x1="887" y1="940" x2="905" y2="958"/>
<line x1="800" y1="958" x2="822" y2="985"/><line x1="851" y1="958" x2="822" y2="985"/><line x1="851" y1="958" x2="880" y2="985"/><line x1="905" y1="958" x2="880" y2="985"/>
</g>
<g fill="#222"><circle cx="851" cy="853" r="2.5"/><circle cx="815" cy="920" r="2.5"/><circle cx="851" cy="920" r="2.5"/><circle cx="887" cy="920" r="2.5"/><circle cx="822" cy="985" r="2.5"/><circle cx="880" cy="985" r="2.5"/></g>
<!-- buttons -->
<rect x="687" y="1030" width="338" height="80" rx="12" fill="#06a0fa"/>
<text class="sans" x="856" y="1081" font-size="28" fill="#fff" text-anchor="middle">Mathematical</text>
<rect x="687" y="1127" width="338" height="79" rx="12" fill="#5ed636"/>
<text class="sans" x="856" y="1177" font-size="28" fill="#fff" text-anchor="middle">Accurate</text>
<rect x="687" y="1226" width="338" height="80" rx="12" fill="#ee2211"/>
<text class="sans" x="856" y="1277" font-size="28" fill="#fff" text-anchor="middle">Interpretable</text>
<!-- KAN graphs -->
<g stroke="#000" stroke-width="2" fill="none">
<line x1="82" y1="1051" x2="82" y2="1291"/><line x1="207" y1="1051" x2="82" y2="1178"/><line x1="82" y1="1178" x2="207" y2="1291"/>
<line x1="343" y1="1049" x2="283" y2="1166"/><line x1="343" y1="1049" x2="409" y2="1166"/><line x1="283" y1="1166" x2="409" y2="1166" stroke-width="3"/><line x1="283" y1="1166" x2="283" y2="1286"/><line x1="409" y1="1166" x2="409" y2="1286"/>
<line x1="497" y1="1046" x2="497" y2="1286"/><line x1="497" y1="1046" x2="623" y2="1286"/><line x1="623" y1="1049" x2="623" y2="1286"/>
</g>
<g fill="#fff" stroke="#888" stroke-width="1.2">
<rect x="68" y="1094" width="31" height="32"/><rect x="133" y="1094" width="31" height="32"/><rect x="68" y="1219" width="31" height="32"/><rect x="133" y="1219" width="31" height="32"/>
<rect x="297" y="1088" width="32" height="32"/><rect x="361" y="1088" width="31" height="32"/><rect x="268" y="1218" width="31" height="30"/><rect x="393" y="1214" width="32" height="31"/>
<rect x="482" y="1084" width="31" height="31"/><rect x="482" y="1218" width="31" height="30"/><rect x="544" y="1151" width="29" height="31"/><rect x="607" y="1088" width="32" height="32"/><rect x="607" y="1211" width="32" height="31"/>
</g>
<g stroke="#333" stroke-width="1.3" fill="none">
<path d="M71,1123 Q83,1070 96,1123"/><path d="M136,1097 Q138,1123 161,1123"/><path d="M71,1248 Q83,1195 96,1248"/><path d="M137,1248 L142,1222 L150,1246 L158,1222"/>
<path d="M300,1117 Q310,1070 318,1117 T326,1095"/><path d="M364,1117 Q380,1100 389,1091"/><path d="M271,1245 Q283,1195 296,1245"/><path d="M396,1225 L405,1240 L412,1220 L420,1240"/>
<path d="M485,1090 Q495,1130 510,1090"/><path d="M485,1245 Q497,1195 510,1245"/><path d="M547,1179 L555,1155 L563,1179 L570,1155"/><path d="M610,1091 Q612,1117 636,1117"/><path d="M610,1239 Q623,1190 636,1239"/>
</g>
<g fill="#000">
<ellipse cx="82" cy="1051" rx="9" ry="10"/><ellipse cx="207" cy="1051" rx="9" ry="10"/><ellipse cx="82" cy="1178" rx="9" ry="10"/><ellipse cx="82" cy="1291" rx="9" ry="10"/><ellipse cx="207" cy="1291" rx="9" ry="10"/>
<ellipse cx="343" cy="1049" rx="9" ry="10"/><ellipse cx="283" cy="1166" rx="9" ry="10"/><ellipse cx="409" cy="1166" rx="9" ry="10"/><ellipse cx="283" cy="1286" rx="9" ry="10"/><ellipse cx="409" cy="1286" rx="9" ry="10"/>
<ellipse cx="497" cy="1046" rx="9" ry="10"/><ellipse cx="623" cy="1049" rx="9" ry="10"/><ellipse cx="497" cy="1166" rx="9" ry="10"/><ellipse cx="623" cy="1166" rx="9" ry="10"/><ellipse cx="497" cy="1286" rx="9" ry="10"/><ellipse cx="623" cy="1286" rx="9" ry="10"/>
</g>
<line x1="565" y1="1361" x2="565" y2="1438" stroke="#000" stroke-width="4" marker-end="url(#ar)"/>

<!-- Math expression -->
<rect x="37" y="1443" width="1057" height="141" rx="22" fill="#fdfbff" stroke="#000" stroke-width="7"/>
<text class="serif" font-size="46" text-anchor="middle" fill="#222"><tspan x="565" y="1503">Mathematical expression describing water</tspan><tspan x="565" y="1559">temperature in terms of key drivers</tspan></text>
</svg>
</body></html>
